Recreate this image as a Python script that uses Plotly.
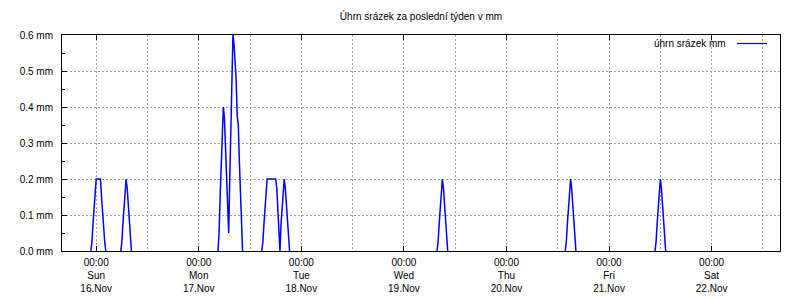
import plotly.graph_objects as go

title_text = "Úhrn srázek za poslední týden v mm"
series_name = "úhrn srázek mm"

# --- rainfall events (time, mm) ---
sun_a_t = ["2014-11-15 22:45", "2014-11-15 23:00", "2014-11-15 23:15", "2014-11-15 23:30", "2014-11-15 23:45",
           "2014-11-16 00:00", "2014-11-16 00:15", "2014-11-16 00:30", "2014-11-16 00:45", "2014-11-16 01:00",
           "2014-11-16 01:15", "2014-11-16 01:30", "2014-11-16 01:45", "2014-11-16 02:00", "2014-11-16 02:15"]
sun_a_v = [0, 0.025, 0.075, 0.125, 0.175,
           0.2, 0.2, 0.2, 0.2, 0.2,
           0.15, 0.1, 0.05, 0.025, 0]

sun_b_t = ["2014-11-16 05:45", "2014-11-16 06:00", "2014-11-16 06:15", "2014-11-16 06:30", "2014-11-16 06:45",
           "2014-11-16 07:00", "2014-11-16 07:15", "2014-11-16 07:30", "2014-11-16 07:45", "2014-11-16 08:00",
           "2014-11-16 08:15"]
sun_b_v = [0, 0.025, 0.075, 0.125, 0.175,
           0.2, 0.175, 0.125, 0.075, 0.025,
           0]

mon_a_t = ["2014-11-17 04:30", "2014-11-17 04:45", "2014-11-17 05:00", "2014-11-17 05:15", "2014-11-17 05:30",
           "2014-11-17 05:45", "2014-11-17 06:00", "2014-11-17 06:15", "2014-11-17 06:30", "2014-11-17 06:45",
           "2014-11-17 07:00", "2014-11-17 07:15", "2014-11-17 07:30", "2014-11-17 07:45", "2014-11-17 08:00",
           "2014-11-17 08:15", "2014-11-17 08:30", "2014-11-17 08:45", "2014-11-17 09:00", "2014-11-17 09:15",
           "2014-11-17 09:30", "2014-11-17 09:45", "2014-11-17 10:00", "2014-11-17 10:15"]
mon_a_v = [0, 0.05, 0.15, 0.25, 0.35,
           0.4, 0.37, 0.3, 0.2, 0.12,
           0.05, 0.2, 0.37, 0.525, 0.6,
           0.575, 0.525, 0.475, 0.375, 0.35,
           0.25, 0.15, 0.05, 0]

mon_b_t = ["2014-11-17 14:45", "2014-11-17 15:00", "2014-11-17 15:15", "2014-11-17 15:30", "2014-11-17 15:45",
           "2014-11-17 16:00", "2014-11-17 16:15", "2014-11-17 16:30", "2014-11-17 16:45", "2014-11-17 17:00",
           "2014-11-17 17:15", "2014-11-17 17:30", "2014-11-17 17:45", "2014-11-17 18:00", "2014-11-17 18:15",
           "2014-11-17 18:30", "2014-11-17 18:45", "2014-11-17 19:00", "2014-11-17 19:15", "2014-11-17 19:30",
           "2014-11-17 19:45", "2014-11-17 20:00", "2014-11-17 20:15", "2014-11-17 20:30", "2014-11-17 20:45",
           "2014-11-17 21:00", "2014-11-17 21:15"]
mon_b_v = [0, 0.025, 0.075, 0.125, 0.175,
           0.2, 0.2, 0.2, 0.2, 0.2,
           0.2, 0.2, 0.2, 0.2, 0.175,
           0.125, 0.075, 0, 0.075, 0.125,
           0.175, 0.2, 0.175, 0.125, 0.075,
           0.025, 0]

wed_t = ["2014-11-19 07:45", "2014-11-19 08:00", "2014-11-19 08:15", "2014-11-19 08:30", "2014-11-19 08:45",
         "2014-11-19 09:00", "2014-11-19 09:15", "2014-11-19 09:30", "2014-11-19 09:45", "2014-11-19 10:00",
         "2014-11-19 10:15"]
wed_v = [0, 0.025, 0.075, 0.125, 0.175,
         0.2, 0.175, 0.125, 0.075, 0.025,
         0]

thu_t = ["2014-11-20 13:45", "2014-11-20 14:00", "2014-11-20 14:15", "2014-11-20 14:30", "2014-11-20 14:45",
         "2014-11-20 15:00", "2014-11-20 15:15", "2014-11-20 15:30", "2014-11-20 15:45", "2014-11-20 16:00",
         "2014-11-20 16:15"]
thu_v = [0, 0.025, 0.075, 0.125, 0.175,
         0.2, 0.175, 0.125, 0.075, 0.025,
         0]

fri_t = ["2014-11-21 10:45", "2014-11-21 11:00", "2014-11-21 11:15", "2014-11-21 11:30", "2014-11-21 11:45",
         "2014-11-21 12:00", "2014-11-21 12:15", "2014-11-21 12:30", "2014-11-21 12:45", "2014-11-21 13:00",
         "2014-11-21 13:15"]
fri_v = [0, 0.025, 0.075, 0.125, 0.175,
         0.2, 0.175, 0.125, 0.075, 0.025,
         0]

# --- axis ticks ---
x_range = ["2014-11-15 16:00", "2014-11-22 16:00"]
tick_dates = ["2014-11-16", "2014-11-17", "2014-11-18", "2014-11-19", "2014-11-20", "2014-11-21", "2014-11-22"]
tick_hours = ["00:00", "00:00", "00:00", "00:00", "00:00", "00:00", "00:00"]
tick_days = ["Sun", "Mon", "Tue", "Wed", "Thu", "Fri", "Sat"]
tick_daymonth = ["16.Nov", "17.Nov", "18.Nov", "19.Nov", "20.Nov", "21.Nov", "22.Nov"]

y_ticks = [0.0, 0.1, 0.2, 0.3, 0.4, 0.5, 0.6]
y_labels = ["0.0 mm", "0.1 mm", "0.2 mm", "0.3 mm", "0.4 mm", "0.5 mm", "0.6 mm"]

# join events; gaps (None) between them – the zero baseline lies under the black axis anyway
events = [(sun_a_t, sun_a_v), (sun_b_t, sun_b_v), (mon_a_t, mon_a_v), (mon_b_t, mon_b_v),
          (wed_t, wed_v), (thu_t, thu_v), (fri_t, fri_v)]
times, rain = [], []
for t, v in events:
    times += list(t) + [None]
    rain += list(v) + [None]

FONT = "Liberation Sans, Arial, sans-serif"
GRID = "#a0a0a0"

fig = go.Figure()
fig.add_trace(go.Scatter(x=times, y=rain, mode="lines", name=series_name, connectgaps=False,
                         line=dict(color="#0000ff", width=1.5), showlegend=False))

ticktext = [f"{h}<br>{d}<br>{m}" for h, d, m in zip(tick_hours, tick_days, tick_daymonth)]

fig.update_layout(
    width=800, height=300,
    margin=dict(l=62, r=20, t=35, b=49, autoexpand=False),
    paper_bgcolor="white", plot_bgcolor="white",
    font=dict(family=FONT, size=10, color="black"),
    title=dict(text=title_text, x=0.5, xref="paper", xanchor="center",
               y=1 - 16 / 300, yref="container", yanchor="middle",
               font=dict(family=FONT, size=10, color="black")),
    showlegend=False,
)

fig.update_xaxes(
    type="date", range=x_range, automargin=False,
    tickmode="array", tickvals=tick_dates, ticktext=ticktext,
    ticks="inside", ticklen=5, tickcolor="black", tickwidth=1,
    showline=True, linecolor="black", linewidth=1, mirror="ticks",
    showgrid=True, gridcolor=GRID, griddash="2px,2px", gridwidth=1,
    minor=dict(dtick=43200000, tick0="2014-11-16", showgrid=True,
               gridcolor=GRID, griddash="2px,2px", gridwidth=1, ticks=""),
    zeroline=False, tickfont=dict(family=FONT, size=10, color="black"),
    ticklabelstandoff=2,
)

fig.update_yaxes(
    range=[0, 0.6], automargin=False, tickmode="array", tickvals=y_ticks, ticktext=y_labels,
    ticks="inside", ticklen=5, tickcolor="black", tickwidth=1,
    showline=True, linecolor="black", linewidth=1, mirror=True,
    showgrid=True, gridcolor=GRID, griddash="2px,2px", gridwidth=1,
    minor=dict(dtick=0.05, tick0=0, ticks="inside", ticklen=3, tickcolor="black", showgrid=False),
    zeroline=False, tickfont=dict(family=FONT, size=10, color="black"),
    ticklabelstandoff=6,
)

# legend key in gnuplot style: text, then a line sample to its right
fig.add_annotation(text=series_name, xref="paper", yref="paper",
                   x=(728 - 62) / 718, y=(251 - 43.5) / 216, xanchor="right", yanchor="middle",
                   showarrow=False, font=dict(family=FONT, size=10, color="black"))
fig.add_shape(type="line", xref="paper", yref="paper",
              x0=(737 - 62) / 718, x1=(767 - 62) / 718,
              y0=(251 - 43.5) / 216, y1=(251 - 43.5) / 216,
              line=dict(color="#0000ff", width=1.2))

fig.write_html("out.html")
